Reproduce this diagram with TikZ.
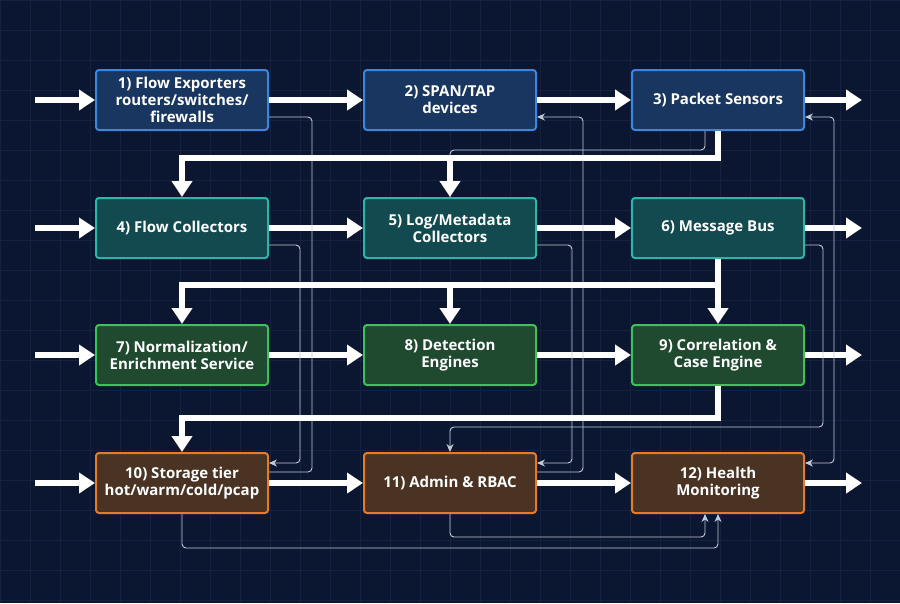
\documentclass[tikz,border=0pt]{standalone}
\usepackage{fontspec}
\setmainfont{Open Sans}
\usetikzlibrary{arrows.meta,positioning}
\definecolor{bgnavy}{HTML}{0B1630}
\definecolor{gridc}{HTML}{14223F}
\definecolor{bluefill}{HTML}{183660}
\definecolor{blueline}{HTML}{3F86DA}
\definecolor{tealfill}{HTML}{124A50}
\definecolor{tealline}{HTML}{2DB5A8}
\definecolor{greenfill}{HTML}{1F4A2F}
\definecolor{greenline}{HTML}{42BF5A}
\definecolor{orfill}{HTML}{4A3323}
\definecolor{orline}{HTML}{E47A2A}
\definecolor{thinc}{HTML}{C4CBD8}
\tikzset{
  stage/.style={draw, line width=2pt, rounded corners=3pt, minimum width=172pt, minimum height=60pt,
    align=center, text=white, font=\bfseries\fontsize{15}{17}\selectfont, inner sep=2pt},
  bluebox/.style={stage, fill=bluefill, draw=blueline},
  tealbox/.style={stage, fill=tealfill, draw=tealline},
  greenbox/.style={stage, fill=greenfill, draw=greenline},
  orbox/.style={stage, fill=orfill, draw=orline},
  fat/.style={white, line width=6pt, -{Triangle[length=16pt,width=20pt]}},
  fatline/.style={white, line width=6pt},
  thin/.style={thinc, line width=0.9pt, rounded corners=4pt},
  thinarr/.style={thin, -{Stealth[length=8pt,width=7pt]}}
}
\begin{document}
\begin{tikzpicture}[x=1pt,y=-1pt]
  % background
  \fill[bgnavy] (0,0) rectangle (900,603);
  \useasboundingbox (0,0) rectangle (900,603);
  \foreach \g in {0,30,...,900} \draw[gridc, line width=0.4pt] (\g,0) -- (\g,603);
  \foreach \g in {0,30,...,600} \draw[gridc, line width=0.4pt] (0,\g) -- (900,\g);

  % stages
  \node[bluebox] (exp) at (182,100) {1) Flow Exporters\\routers/switches/\\firewalls};
  \node[bluebox] (span) at (450,100) {2) SPAN/TAP\\devices};
  \node[bluebox] (sens) at (718,100) {3) Packet Sensors};
  \node[tealbox] (coll) at (182,228) {4) Flow Collectors};
  \node[tealbox] (logc) at (450,228) {5) Log/Metadata\\Collectors};
  \node[tealbox] (bus) at (718,228) {6) Message Bus};
  \node[greenbox] (norm) at (182,355) {7) Normalization/\\Enrichment Service};
  \node[greenbox] (det) at (450,355) {8) Detection\\Engines};
  \node[greenbox] (corr) at (718,355) {9) Correlation \&\\Case Engine};
  \node[orbox] (stor) at (182,483) {10) Storage tier\\hot/warm/cold/pcap};
  \node[orbox] (adm) at (450,483) {11) Admin \& RBAC};
  \node[orbox] (hlth) at (718,483) {12) Health\\Monitoring};

  % free ends
  \foreach \r/\y in {1/100,2/228,3/355,4/483} {
    \coordinate (in\r) at (35,\y);
    \coordinate (out\r) at (862,\y);
  }

  % main flow
  \draw[fat] (in1) -- (exp);
  \draw[fat] (exp) -- (span);
  \draw[fat] (span) -- (sens);
  \draw[fat] (sens) -- (out1);
  \draw[fat] (in2) -- (coll);
  \draw[fat] (coll) -- (logc);
  \draw[fat] (logc) -- (bus);
  \draw[fat] (bus) -- (out2);
  \draw[fat] (in3) -- (norm);
  \draw[fat] (norm) -- (det);
  \draw[fat] (det) -- (corr);
  \draw[fat] (corr) -- (out3);
  \draw[fat] (in4) -- (stor);
  \draw[fat] (stor) -- (adm);
  \draw[fat] (adm) -- (hlth);
  \draw[fat] (hlth) -- (out4);

  % side links
  \draw[thin] ([yshift=-17pt]exp.east) -| (312,472) -- ([yshift=11pt]stor.east);
  \draw[thinarr] ([yshift=-17pt]coll.east) -| (300,463) -- ([yshift=20pt]stor.east);
  \draw[thinarr] ([yshift=11pt]adm.east) -| (583,117) -- ([yshift=-17pt]span.east);
  \draw[thinarr] ([yshift=-17pt]logc.east) -| (572,463) -- ([yshift=20pt]adm.east);
  \draw[thin] ([xshift=-13pt]sens.south) |- (450,150) -- (logc.north);
  \draw[thinarr] ([yshift=-17pt]bus.east) -| (823,427) -| (adm.north);
  \draw[thinarr, {Stealth[length=8pt,width=7pt]}-{Stealth[length=8pt,width=7pt]}]
    ([yshift=-17pt]sens.east) -| (834,463) -- ([yshift=20pt]hlth.east);
  \draw[thinarr] (adm.south) |- (705,537) -- ([xshift=-13pt]hlth.south);
  \draw[thinarr] (stor.south) |- (718,548) -- (hlth.south);

  % stage hand-offs
  \draw[fatline] (sens.south) |- (182,158);
  \draw[fat] (182,155) -- (coll.north);
  \draw[fat] (450,158) -- (logc.north);
  \draw[fatline] (bus.south) |- (182,285);
  \draw[fat] (182,282) -- (norm.north);
  \draw[fat] (450,285) -- (det.north);
  \draw[fat] (718,285) -- (corr.north);
  \draw[fatline] (corr.south) |- (182,418);
  \draw[fat] (182,415) -- (stor.north);
\end{tikzpicture}
\end{document}
